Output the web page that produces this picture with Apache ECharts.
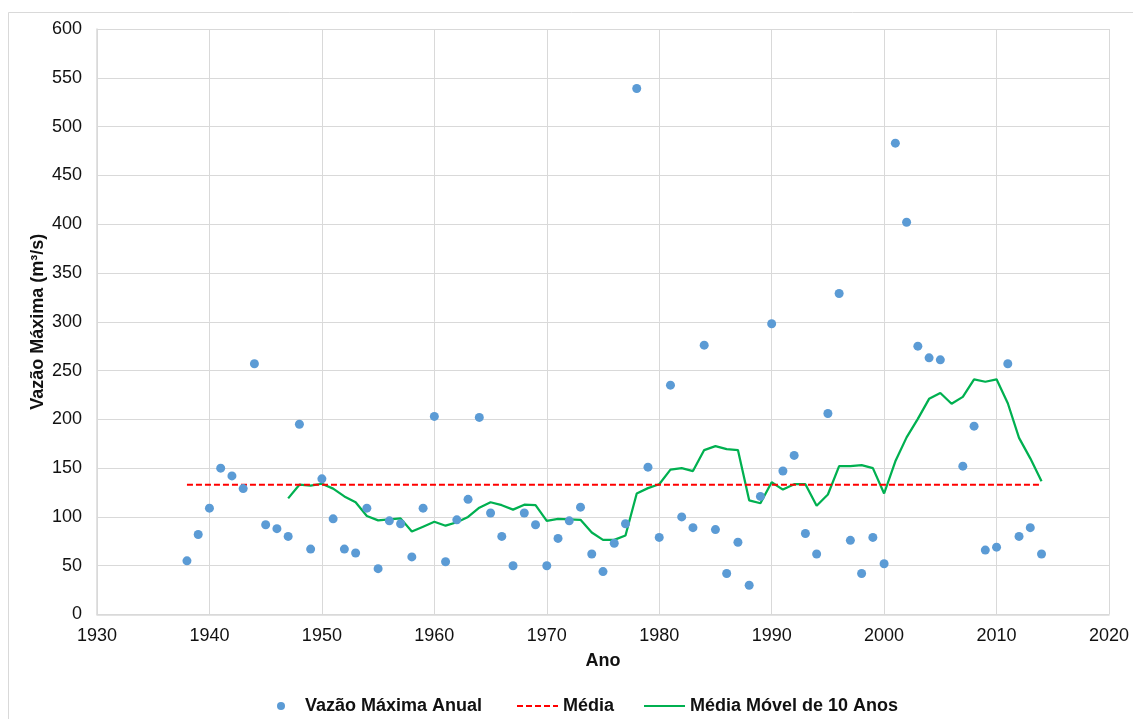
<!DOCTYPE html>
<html>
<head>
<meta charset="utf-8">
<script src="https://cdn.jsdelivr.net/npm/echarts@6/dist/echarts.min.js"></script>
<style>
  html, body { margin: 0; padding: 0; background: #fff; }
  #chart { width: 1133px; height: 719px; }
</style>
</head>
<body>
<div id="chart"></div>
<script>
// Annual peak discharge (m³/s), one value per year; 2006 has no record
const years = [
  1938, 1939, 1940, 1941, 1942, 1943, 1944, 1945, 1946, 1947,
  1948, 1949, 1950, 1951, 1952, 1953, 1954, 1955, 1956, 1957,
  1958, 1959, 1960, 1961, 1962, 1963, 1964, 1965, 1966, 1967,
  1968, 1969, 1970, 1971, 1972, 1973, 1974, 1975, 1976, 1977,
  1978, 1979, 1980, 1981, 1982, 1983, 1984, 1985, 1986, 1987,
  1988, 1989, 1990, 1991, 1992, 1993, 1994, 1995, 1996, 1997,
  1998, 1999, 2000, 2001, 2002, 2003, 2004, 2005, 2007, 2008,
  2009, 2010, 2011, 2012, 2013, 2014
];
const vazaoMaxima = [
  55, 82, 109, 150, 142, 129, 257, 92, 88, 80,
  195, 67, 139, 98, 67, 63, 109, 47, 96, 93,
  59, 109, 203, 54, 97, 118, 202, 104, 80, 50,
  104, 92, 50, 78, 96, 110, 62, 44, 73, 93,
  539, 151, 79, 235, 100, 89, 276, 87, 42, 74,
  30, 121, 298, 147, 163, 83, 62, 206, 329, 76,
  42, 79, 52, 483, 402, 275, 263, 261, 152, 193,
  66, 69, 257, 80, 89, 62
];

// 10-year moving average
const mediaMovelAnos = [
  1947, 1948, 1949, 1950, 1951, 1952, 1953, 1954, 1955, 1956,
  1957, 1958, 1959, 1960, 1961, 1962, 1963, 1964, 1965, 1966,
  1967, 1968, 1969, 1970, 1971, 1972, 1973, 1974, 1975, 1976,
  1977, 1978, 1979, 1980, 1981, 1982, 1983, 1984, 1985, 1986,
  1987, 1988, 1989, 1990, 1991, 1992, 1993, 1994, 1995, 1996,
  1997, 1998, 1999, 2000, 2001, 2002, 2003, 2004, 2005, 2006,
  2007, 2008, 2009, 2010, 2011, 2012, 2013, 2014
];
const mediaMovel = [
  119, 133, 132, 134, 129, 121, 115, 101, 96.5, 97.5,
  98.5, 85, 90, 95, 91, 94.5, 100, 109.5, 115, 112,
  107.5, 112.5, 112, 96, 98, 97.5, 97, 84, 76.5, 76.5,
  81, 124, 129.5, 133.5, 148.5, 150, 147, 168.5, 172.5, 169.5,
  168.5, 117, 114, 135.5, 128, 133.5, 133.5, 111.5, 123, 152,
  152, 153, 150, 124, 157, 181.5, 200.5, 221, 227, 216,
  223, 241, 238.5, 241, 216.5, 181, 160, 136.5
];

// Long-term mean, drawn across the record period
const mediaAnos = [1938, 2014];
const mediaValor = [133, 133];

const FONT = '"Liberation Sans", Arial, sans-serif';
const TXT = '#111111';
const GRID = '#d9d9d9';

// Legend glyphs: a dashed stroke and a solid stroke, 41 x 2
const ICON_DASHED = 'path://M0,0h6v2h-6z M9,0h6v2h-6z M18,0h6v2h-6z M27,0h6v2h-6z M36,0h5v2h-5z';
const ICON_SOLID = 'path://M0,0h41v2h-41z';

const chart = echarts.init(document.getElementById('chart'), null, { renderer: 'canvas' });

chart.setOption({
  backgroundColor: '#ffffff',
  animation: false,
  textStyle: { fontFamily: FONT },
  graphic: [{
    type: 'rect',
    shape: { x: 8.5, y: 12.5, width: 1140, height: 720 },
    style: { fill: 'none', stroke: '#d9d9d9', lineWidth: 1 },
    silent: true,
    z: -10
  }],
  grid: { left: 97, right: 24, top: 29, bottom: 104.5, containLabel: false },
  xAxis: {
    type: 'value',
    min: 1930, max: 2020, interval: 10,
    name: 'Ano',
    nameLocation: 'middle',
    nameGap: 38,
    nameMoveOverlap: false,
    nameTextStyle: { fontFamily: FONT, fontSize: 18, fontWeight: 'bold', color: TXT },
    axisLine: { show: true, lineStyle: { color: GRID, width: 1.5 } },
    axisTick: { show: false },
    axisLabel: { fontFamily: FONT, fontSize: 18, color: TXT, margin: 13, formatter: v => String(v) },
    splitLine: { show: true, lineStyle: { color: GRID, width: 1 } }
  },
  yAxis: {
    type: 'value',
    min: 0, max: 600, interval: 50,
    name: 'Vazão Máxima (m³/s)',
    nameLocation: 'middle',
    nameGap: 50,
    nameMoveOverlap: false,
    nameTextStyle: { fontFamily: FONT, fontSize: 18, fontWeight: 'bold', color: TXT },
    axisLine: { show: true, lineStyle: { color: GRID, width: 1.5 } },
    axisTick: { show: false },
    axisLabel: { fontFamily: FONT, fontSize: 18, color: TXT, margin: 15, formatter: v => String(v) },
    splitLine: { show: true, lineStyle: { color: GRID, width: 1 } }
  },
  legend: [
    {
      data: [{ name: 'Vazão Máxima Anual', icon: 'circle' }],
      left: 272, top: 692,
      itemWidth: 8, itemHeight: 8,
      textStyle: { fontFamily: FONT, fontSize: 18, fontWeight: 'bold', color: TXT, padding: [0, 0, 0, 15] }
    },
    {
      data: [
        { name: 'Média', icon: ICON_DASHED },
        { name: 'Média Móvel de 10 Anos', icon: ICON_SOLID }
      ],
      left: 512, top: 692,
      itemWidth: 41, itemHeight: 2, itemGap: 30,
      textStyle: { fontFamily: FONT, fontSize: 18, fontWeight: 'bold', color: TXT }
    }
  ],
  series: [
    {
      name: 'Média Móvel de 10 Anos',
      type: 'line',
      data: mediaMovelAnos.map((y, i) => [y, mediaMovel[i]]),
      showSymbol: false,
      symbol: 'none',
      lineStyle: { color: '#00b050', width: 2.25 },
      itemStyle: { color: '#00b050' },
      z: 3
    },
    {
      name: 'Média',
      type: 'line',
      data: mediaAnos.map((y, i) => [y, mediaValor[i]]),
      showSymbol: false,
      symbol: 'none',
      lineStyle: { color: '#ff0000', width: 2, type: [6, 3] },
      itemStyle: { color: '#ff0000' },
      z: 4
    },
    {
      name: 'Vazão Máxima Anual',
      type: 'scatter',
      data: years.map((y, i) => [y, vazaoMaxima[i]]),
      symbol: 'circle',
      symbolSize: 9,
      itemStyle: { color: '#5b9bd5', opacity: 1 },
      z: 5
    }
  ]
});
</script>
</body>
</html>
